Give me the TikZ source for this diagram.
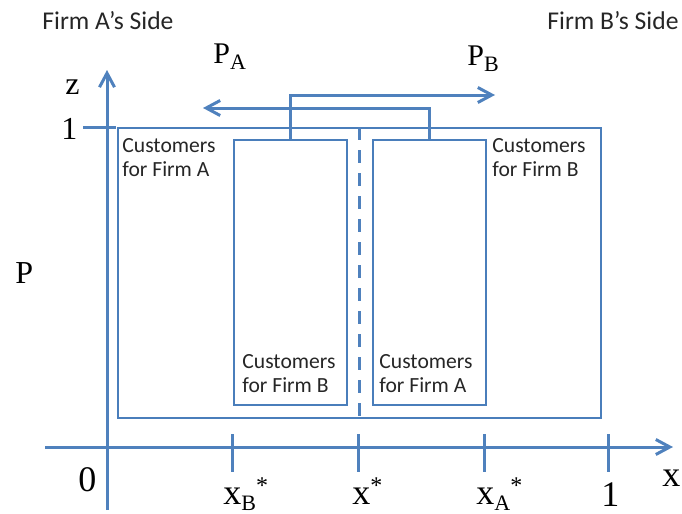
\documentclass[tikz,border=0pt]{standalone}
\usepackage{fontspec}
\setmainfont{Liberation Serif}
\newfontfamily\carlito{Carlito}
\usetikzlibrary{arrows.meta}
\definecolor{axblue}{RGB}{79,129,189}
\definecolor{boxblue}{RGB}{74,126,187}
\newcommand\lsub[1]{\raisebox{-3pt}{\fontsize{11}{11}\selectfont #1}}
\newcommand\lstar{\raisebox{5.5pt}{\fontsize{12}{12}\selectfont *}}
\begin{document}
\begin{tikzpicture}[x=0.5pt,y=-0.5pt,
  axis/.style={draw=axblue,line width=1.5pt},
  tipend/.style={-{Straight Barb[length=7pt,width=7.5pt]}},
  box/.style={draw=boxblue,line width=0.75pt,inner sep=0pt,anchor=north west},
  conn/.style={draw=axblue,line width=1.5pt},
  sep/.style={draw=axblue,line width=1.5pt,dash pattern=on 6.5pt off 5pt},
  sans/.style={font=\carlito\fontsize{10.8}{12}\selectfont,align=left,anchor=north west,inner sep=0pt,text=black!85},
  side/.style={font=\carlito\fontsize{12.8}{13}\selectfont,anchor=base west,inner sep=0pt,text=black!85},
  lbl/.style={font=\fontsize{16}{16}\selectfont,anchor=base west,inner sep=0pt},
  blbl/.style={font=\fontsize{18}{18}\selectfont,anchor=base west,inner sep=0pt},
  plbl/.style={font=\fontsize{15}{15}\selectfont,anchor=base west,inner sep=0pt}
]
\useasboundingbox (0,0) rectangle (682,514);

% axes
\coordinate (xs) at (45,447);
\coordinate (xe) at (673,447);
\coordinate (ys) at (107,510);
\coordinate (ye) at (107,70);
\draw[axis,tipend] (xs) -- (xe);
\draw[axis,tipend] (ys) -- (ye);
\coordinate (y1a) at (83,127);
\coordinate (y1b) at (116,127);
\draw[axis] (y1a) -- (y1b);
\foreach \t/\xx in {tb/232, ts/358, ta/484, t1/608}{
  \coordinate (\t a) at (\xx,434);
  \coordinate (\t b) at (\xx,472);
  \draw[axis] (\t a) -- (\t b);
}

% boxes
\node[box,minimum width=241.5pt,minimum height=145pt] (outer) at (117,127) {};
\node[box,minimum width=56.5pt,minimum height=132.5pt] (inL) at (233,139) {};
\node[box,minimum width=56.5pt,minimum height=132.5pt] (inR) at (372,139) {};
\draw[sep] (outer.north) -- (outer.south);

% price arrows
\coordinate (tipB) at (495,95);
\coordinate (tipA) at (203,108);
\draw[conn,tipend] (inL.north) |- (tipB);
\draw[conn,tipend] (inR.north) |- (tipA);

% box texts
\node[sans] (t1) at (122,138) {Customers\\for Firm A};
\node[sans] (t2) at (492,138) {Customers\\for Firm B};
\node[sans] (t3) at (242,354) {Customers\\for Firm B};
\node[sans] (t4) at (379,354) {Customers\\for Firm A};

% side titles
\node[side] (sa) at (42,29) {Firm A’s Side};
\node[side] (sb) at (547,29) {Firm B’s Side};

% price labels
\node[plbl] (pa) at (213,63) {P\lsub{A}};
\node[plbl] (pb) at (467,65) {P\lsub{B}};

% axis labels
\node[lbl] (z) at (65,95) {z};
\node[lbl] (one) at (61,140) {1};
\node[lbl] (p) at (15,284) {P};
\node[blbl] (zero) at (78,491) {0};
\node[blbl] (xb) at (223,504) {x\lsub{B}\lstar};
\node[blbl] (xstar) at (352,504) {x\lstar};
\node[blbl] (xa) at (476,504) {x\lsub{A}\lstar};
\node[blbl] (onex) at (601,506) {1};
\node[blbl] (x) at (662,486) {x};
\end{tikzpicture}
\end{document}
